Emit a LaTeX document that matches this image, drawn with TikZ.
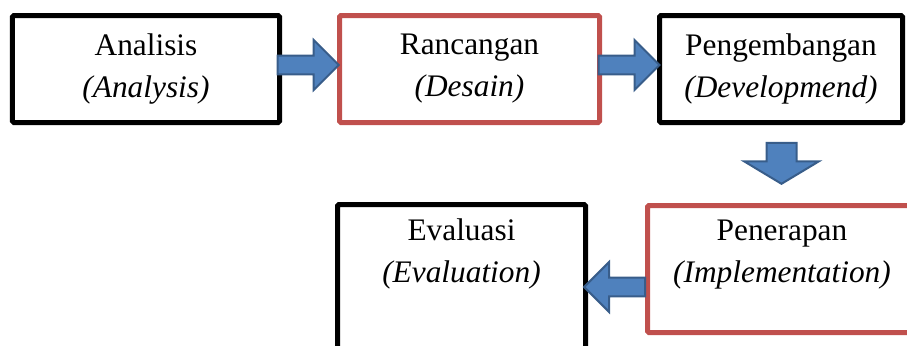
\documentclass[tikz,border=0pt]{standalone}
\usepackage{fontspec}
\setmainfont{Liberation Serif}
\usetikzlibrary{shapes.arrows,calc}
\definecolor{boxred}{HTML}{C0504D}
\definecolor{arrblue}{HTML}{4F81BD}
\definecolor{arrline}{HTML}{385D8A}
\tikzset{
  txt/.style={align=center,inner sep=0pt,font=\fontsize{22.3}{29.8}\selectfont},
  box/.style={txt,draw=black,line width=0.125cm,rounded corners=1pt},
  redbox/.style={box,draw=boxred},
  blockarrow/.style={single arrow,draw=arrline,fill=arrblue,line width=0.05cm,
    inner xsep=0pt,inner ysep=0.21cm,single arrow head extend=0.39cm,minimum height=1.525cm}
}
\begin{document}
\begin{tikzpicture}
\useasboundingbox (0,0) rectangle (22.675,-8.625);
\clip (0,0) rectangle (22.675,-8.625);
\node[box,minimum width=6.675cm,minimum height=2.675cm](ana)at(3.65,-1.725){Analisis\\\textit{(Analysis)}};
\node[redbox,minimum width=6.5cm,minimum height=2.675cm](ran)at(11.7375,-1.725){Rancangan\\\textit{(Desain)}};
\node[box,minimum width=6.075cm,minimum height=2.675cm](dev)at(19.525,-1.725){Pengembangan\\\textit{(Developmend)}};
\node[redbox,minimum width=6.725cm,minimum height=3.175cm](pen)at(19.55,-6.725){};
\node[box,minimum width=6.2cm,minimum height=4.125cm](eva)at(11.5375,-7.175){};
\node[txt](pentxt)at([yshift=-1.3cm]pen.north){Penerapan\\\textit{(Implementation)}};
\node[txt](evatxt)at([yshift=-1.3cm]eva.north){Evaluasi\\\textit{(Evaluation)}};
% panah
\node[blockarrow](a1)at($(ana.east)!0.5!(ran.west)+(-0.15,0.1)$){};
\node[blockarrow](a2)at($(ran.east)!0.5!(dev.west)+(-0.13,0.1)$){};
\node[blockarrow,rotate=-90,minimum height=1.025cm,inner ysep=0.35cm,
  single arrow head extend=0.5625cm,single arrow tip angle=118](a3)at($(dev.south)!0.5!(pen.north)+(0,0.13)$){};
\node[blockarrow,rotate=180](a4)at($(eva.east)!0.5!(pen.west |- eva.east)+(0.07,0)$){};
\end{tikzpicture}
\end{document}
